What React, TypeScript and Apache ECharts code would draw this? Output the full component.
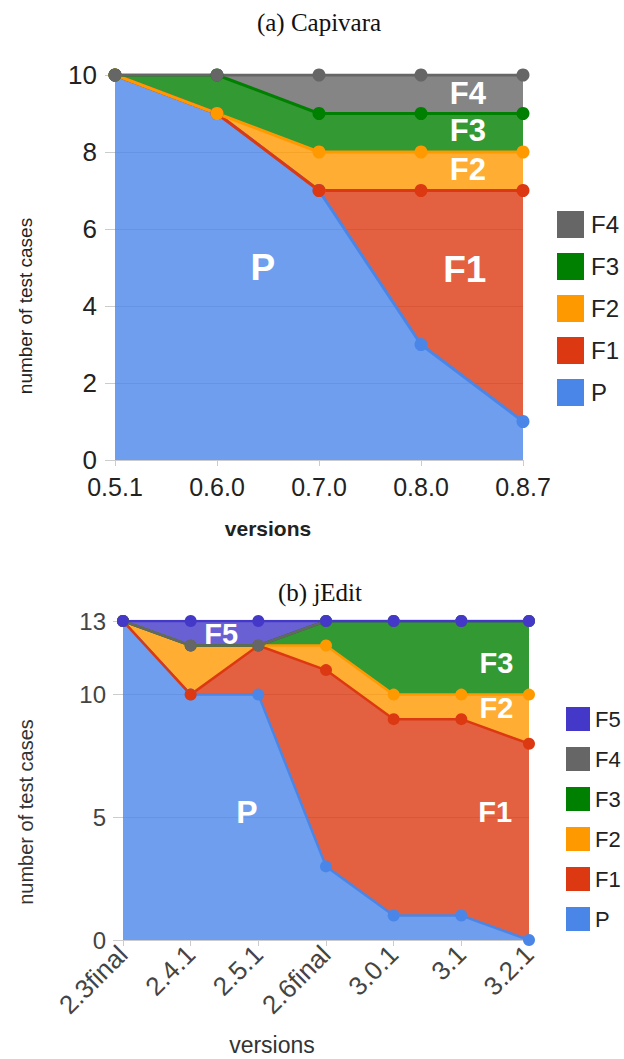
import React, { useEffect, useRef } from 'react';
import * as echarts from 'echarts';

// (a) Capivara
const capCategories = ['0.5.1', '0.6.0', '0.7.0', '0.8.0', '0.8.7'];
const capP = [10, 9, 7, 3, 1];
const capF1 = [0, 0, 0, 4, 6];
const capF2 = [0, 0, 1, 1, 1];
const capF3 = [0, 1, 1, 1, 1];
const capF4 = [0, 0, 1, 1, 1];

// (b) jEdit
const jeCategories = ['2.3final', '2.4.1', '2.5.1', '2.6final', '3.0.1', '3.1', '3.2.1'];
const jeP = [13, 10, 10, 3, 1, 1, 0];
const jeF1 = [0, 0, 2, 8, 8, 8, 8];
const jeF2 = [0, 2, 0, 1, 1, 1, 2];
const jeF3 = [0, 0, 0, 1, 3, 3, 3];
const jeF4 = [0, 0, 0, 0, 0, 0, 0];
const jeF5 = [0, 1, 1, 0, 0, 0, 0];

// in-area labels: [text, category position, value]
const capLabels: [string, number, number][] = [
  ['P', 1.45, 5], ['F1', 3.43, 4.95], ['F2', 3.46, 7.55], ['F3', 3.46, 8.55], ['F4', 3.46, 9.53],
];
const jeLabels: [string, number, number][] = [
  ['F5', 1.45, 12.45], ['P', 1.83, 5.2], ['F1', 5.5, 5.2], ['F2', 5.52, 9.45], ['F3', 5.52, 11.3],
];

const COLORS: Record<string, string> = {
  P: '#4a86e8', F1: '#dc3912', F2: '#ff9900', F3: '#008000', F4: '#666666', F5: '#4438c8',
};

const SANS = 'Liberation Sans, Arial, sans-serif';
const SERIF = 'Liberation Serif, Times New Roman, serif';

export default function App() {
  const ref = useRef<HTMLDivElement>(null);
  useEffect(() => {
    const chart = echarts.init(ref.current!, null, { renderer: 'svg' });
    const mk = (name: string, data: number[], gi: number, size: number, lw: number) => ({
      type: 'line', name, data, xAxisIndex: gi, yAxisIndex: gi, stack: 'total' + gi,
      symbol: 'circle', symbolSize: size, showSymbol: true, showAllSymbol: true,
      lineStyle: { color: COLORS[name], width: lw }, itemStyle: { color: COLORS[name] },
      areaStyle: { color: COLORS[name], opacity: 0.8 }, emphasis: { disabled: true },
    });
    const yAxisBase = (max: number, interval: number, fs: number, color: string, margin: number) => ({
      type: 'value', min: 0, max, interval,
      axisLine: { show: false },
      axisTick: { show: true, length: 10, lineStyle: { color: '#cccccc' } },
      splitLine: { show: true, lineStyle: { color: '#cccccc' } },
      axisLabel: { fontSize: fs, color, fontFamily: SANS, margin },
    });
    const legendBase = {
      orient: 'vertical', icon: 'rect', selectedMode: false,
    };
    chart.setOption({
      animation: false,
      grid: [
        { left: 115, right: 101, top: 75, height: 385, outerBoundsMode: 'none' },
        { left: 123, right: 95, top: 621, height: 319, outerBoundsMode: 'none' },
      ],
      xAxis: [
        {
          type: 'category', gridIndex: 0, data: capCategories, boundaryGap: false,
          axisLine: { lineStyle: { color: '#cccccc' } },
          axisTick: { show: true, length: 6, lineStyle: { color: '#cccccc' } },
          axisLabel: { fontSize: 25, color: '#222', fontFamily: SANS, margin: 14 },
        },
        {
          type: 'category', gridIndex: 1, data: jeCategories, boundaryGap: false,
          axisLine: { lineStyle: { color: '#cccccc' } },
          axisTick: { show: true, length: 6, lineStyle: { color: '#cccccc' } },
          axisLabel: { fontSize: 26, color: '#444', fontFamily: SANS, margin: 10, rotate: 45 },
        },
      ],
      yAxis: [
        { ...yAxisBase(10, 2, 26, '#222', 18), gridIndex: 0 },
        { ...yAxisBase(13, 5, 24, '#444', 17), gridIndex: 1 },
      ],
      legend: [
        {
          ...legendBase, data: ['F4', 'F3', 'F2', 'F1', 'P'], left: 552, top: 206,
          itemWidth: 27, itemHeight: 27, itemGap: 15,
          textStyle: { fontSize: 24, color: '#222', fontFamily: SANS, padding: [0, 0, 0, 2] },
        },
        {
          ...legendBase, data: ['F5', 'F4', 'F3', 'F2', 'F1', 'P'], left: 561, top: 702,
          itemWidth: 24, itemHeight: 24, itemGap: 16,
          textStyle: { fontSize: 22, color: '#222', fontFamily: SANS },
        },
      ],
      series: [
        mk('P', capP, 0, 13, 3), mk('F1', capF1, 0, 13, 3), mk('F2', capF2, 0, 13, 3),
        mk('F3', capF3, 0, 13, 3), mk('F4', capF4, 0, 13, 3),
        mk('P', jeP, 1, 12, 2.5), mk('F1', jeF1, 1, 12, 2.5), mk('F2', jeF2, 1, 12, 2.5),
        mk('F3', jeF3, 1, 12, 2.5), mk('F4', jeF4, 1, 12, 2.5), mk('F5', jeF5, 1, 12, 2.5),
      ],
    });

    const toPx = (gi: number, n: number, xi: number, y: number) => {
      const a = chart.convertToPixel({ gridIndex: gi }, [0, y]) as number[];
      const b = chart.convertToPixel({ gridIndex: gi }, [n - 1, y]) as number[];
      return [a[0] + (b[0] - a[0]) * (xi / (n - 1)), a[1]];
    };
    const inner: any[] = [];
    capLabels.forEach(([t, xi, y]) => {
      const [px, py] = toPx(0, capCategories.length, xi, y);
      const big = t === 'P' || t === 'F1';
      inner.push({
        type: 'text', x: px, y: py, z: 100,
        style: { text: t, fill: '#ffffff', fontSize: big ? 37 : 31, fontWeight: 'bold', fontFamily: SANS, align: 'center', verticalAlign: 'middle' },
      });
    });
    jeLabels.forEach(([t, xi, y]) => {
      const [px, py] = toPx(1, jeCategories.length, xi, y);
      inner.push({
        type: 'text', x: px, y: py, z: 100,
        style: { text: t, fill: '#ffffff', fontSize: t === 'P' ? 32 : 29, fontWeight: 'bold', fontFamily: SANS, align: 'center', verticalAlign: 'middle' },
      });
    });
    const texts = [
      { type: 'text', x: 319, y: 22, style: { text: '(a) Capivara', fill: '#111', fontSize: 25, fontFamily: SERIF, align: 'center', verticalAlign: 'middle' } },
      { type: 'text', x: 320, y: 592, style: { text: '(b) jEdit', fill: '#111', fontSize: 25, fontFamily: SERIF, align: 'center', verticalAlign: 'middle' } },
      { type: 'text', x: 25, y: 306, rotation: Math.PI / 2, style: { text: 'number of test cases', fill: '#222', fontSize: 19, fontFamily: SANS, align: 'center', verticalAlign: 'middle' } },
      { type: 'text', x: 26, y: 812, rotation: Math.PI / 2, style: { text: 'number of test cases', fill: '#333', fontSize: 20, fontFamily: SANS, align: 'center', verticalAlign: 'middle' } },
      { type: 'text', x: 268, y: 528, style: { text: 'versions', fill: '#222', fontSize: 21, fontWeight: 'bold', fontFamily: SANS, align: 'center', verticalAlign: 'middle' } },
      { type: 'text', x: 272, y: 1045, style: { text: 'versions', fill: '#333', fontSize: 23, fontFamily: SANS, align: 'center', verticalAlign: 'middle' } },
    ];
    chart.setOption({ graphic: { elements: [...texts, ...inner] } });
    return () => chart.dispose();
  }, []);
  return <div ref={ref} style={{ position: 'absolute', left: 0, top: 0, width: 624, height: 1059 }} />;
}
